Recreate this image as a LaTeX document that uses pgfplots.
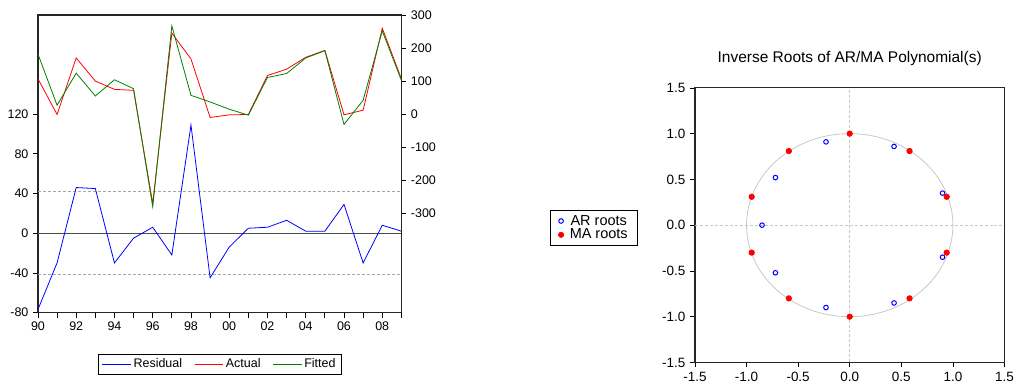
\documentclass[border=0pt]{standalone}
\usepackage{fontspec}
\setmainfont{Liberation Sans}
\usepackage{pgfplots}
\pgfplotsset{compat=1.18}
\definecolor{fitgreen}{RGB}{0,128,0}
\definecolor{lgray}{RGB}{200,200,200}
\begin{document}
\fontsize{12.5}{14}\selectfont
\begin{tikzpicture}
\path (0pt,0pt) rectangle (1018pt,385pt);
\pgfplotsset{every axis/.append style={
  /pgf/number format/assume math mode=true, line width=0.8pt,
  tick align=outside, major tick length=5pt, tick style={black, line width=0.7pt}}}
% ---- left: residual axis
\begin{axis}[at={(38pt,72pt)}, anchor=south west, scale only axis,
  width=364pt, height=298pt, font=\fontsize{12.5}{14}\selectfont,
  xmin=1990, xmax=2009, ymin=-80, ymax=220,
  xtick={1990,...,2009},
  xticklabels={90,,92,,94,,96,,98,,00,,02,,04,,06,,08,},
  ytick={-80,-40,0,40,80,120},
  xtick pos=bottom, ytick pos=left,
  axis line style={black!85, line width=1.2pt},
  ]
\draw[gray!70, densely dashed, line width=0.7pt] (axis cs:1990,42) -- (axis cs:2009,42);
\draw[gray!70, densely dashed, line width=0.7pt] (axis cs:1990,-42) -- (axis cs:2009,-42);
\draw[black!70, line width=1pt] (axis cs:1990,0) -- (axis cs:2009,0);
\addplot[blue, line width=0.8pt] coordinates {
(1990,-77) (1991,-30) (1992,46) (1993,45) (1994,-30) (1995,-5) (1996,6)
(1997,-22) (1998,109) (1999,-45) (2000,-14) (2001,5) (2002,6) (2003,13)
(2004,2) (2005,2) (2006,29) (2007,-30) (2008,8) (2009,2)};
\end{axis}
% ---- left: actual/fitted axis
\begin{axis}[at={(38pt,72pt)}, anchor=south west, scale only axis,
  width=364pt, height=298pt, font=\fontsize{12.5}{14}\selectfont,
  xmin=1990, xmax=2009, ymin=-600, ymax=300,
  axis x line=none, axis y line*=right,
  ytick={-300,-200,-100,0,100,200,300},
  axis line style={black!85, line width=1.2pt},
  legend columns=3,
  legend style={at={(0.5,-0.174)}, anchor=center, draw=black, line width=0.6pt,
    font=\fontsize{12.5}{14}\selectfont, inner xsep=4pt, inner ysep=2.5pt,
    /tikz/every even column/.append style={column sep=10pt}},
  legend image code/.code={\draw[#1, line width=0.8pt] (0pt,0pt) -- (29pt,0pt);},
  ]
\addlegendimage{blue}
\addlegendentry{Residual}
\addplot[red, line width=0.8pt] coordinates {
(1990,107) (1991,-1) (1992,170) (1993,100) (1994,75) (1995,72) (1996,-270)
(1997,245) (1998,167) (1999,-10) (2000,-2) (2001,-1) (2002,117) (2003,136)
(2004,172) (2005,193) (2006,-2) (2007,12) (2008,260) (2009,107)};
\addlegendentry{Actual}
\addplot[fitgreen, line width=0.8pt] coordinates {
(1990,182) (1991,27) (1992,124) (1993,55) (1994,104) (1995,77) (1996,-280)
(1997,267) (1998,57) (1999,37) (2000,15) (2001,-3) (2002,111) (2003,123)
(2004,170) (2005,192) (2006,-31) (2007,42) (2008,252) (2009,102)};
\addlegendentry{Fitted}
\end{axis}
% ---- right: inverse roots
\begin{axis}[at={(696pt,22pt)}, anchor=south west, scale only axis,
  width=310pt, height=275pt, font=\fontsize{13.5}{15}\selectfont,
  xmin=-1.5, xmax=1.5, ymin=-1.5, ymax=1.5,
  xtick={-1.5,-1.0,-0.5,0,0.5,1.0,1.5},
  ytick={-1.5,-1.0,-0.5,0,0.5,1.0,1.5},
  xtick pos=bottom, ytick pos=left,
  axis line style={black!85, line width=1.2pt},
  xticklabel style={/pgf/number format/.cd, fixed, fixed zerofill, precision=1},
  yticklabel style={/pgf/number format/.cd, fixed, fixed zerofill, precision=1},
  title={Inverse Roots of AR/MA Polynomial(s)},
  title style={yshift=12pt, font=\fontsize{15.5}{17}\selectfont},
  legend style={at={(-0.326,0.49)}, anchor=center, draw=black, line width=0.6pt,
    font=\fontsize{14.5}{15}\selectfont, inner xsep=8pt, inner ysep=3pt,
    row sep=-2pt,
    /tikz/every odd column/.append style={column sep=4pt}},
  ]
\draw[lgray, densely dashed, line width=0.7pt] (axis cs:0,-1.5) -- (axis cs:0,1.5);
\draw[lgray, densely dashed, line width=0.7pt] (axis cs:-1.5,0) -- (axis cs:1.5,0);
\draw[lgray, line width=0.8pt] (axis cs:0,0) ellipse [x radius=1, y radius=1];
\addplot[only marks, mark=o, mark size=2.3pt, blue, mark options={line width=1pt}] coordinates {
(-0.23,0.91) (0.43,0.86) (0.90,0.35) (-0.72,0.52) (-0.85,0)
(-0.72,-0.52) (-0.23,-0.90) (0.43,-0.85) (0.90,-0.35)};
\addlegendentry{AR roots}
\addplot[only marks, mark=*, mark size=2.7pt, red] coordinates {
(0,1.0) (-0.59,0.81) (-0.95,0.31) (-0.95,-0.30) (-0.59,-0.80) (0,-1.0)
(0.58,-0.80) (0.94,-0.30) (0.94,0.31) (0.58,0.81)};
\addlegendentry{MA roots}
\end{axis}
\end{tikzpicture}
\end{document}
